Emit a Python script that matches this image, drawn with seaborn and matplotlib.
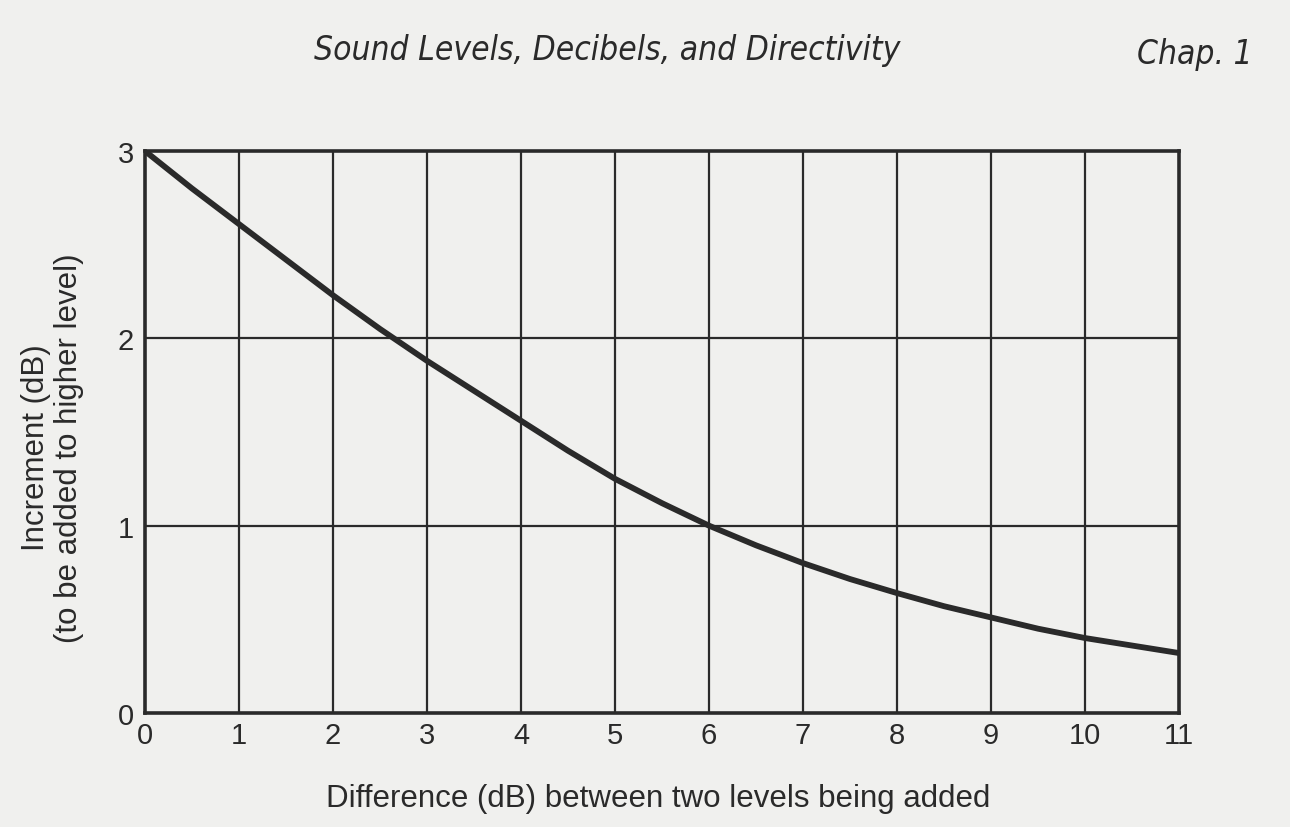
import matplotlib
matplotlib.use("Agg")
import matplotlib.pyplot as plt
import seaborn as sns
import pandas as pd

# Level difference (dB) between two sources and the increment added to the higher level
difference_db = [0, 0.5, 1, 1.5, 2, 2.5, 3, 3.5, 4, 4.5, 5, 5.5,
                 6, 6.5, 7, 7.5, 8, 8.5, 9, 9.5, 10, 10.5, 11]
increment_db = [3.00, 2.80, 2.61, 2.42, 2.23, 2.05, 1.88, 1.72, 1.56, 1.40, 1.25, 1.12,
                1.00, 0.895, 0.80, 0.715, 0.64, 0.57, 0.51, 0.45, 0.40, 0.36, 0.32]

x_ticks = list(range(0, 12))
y_ticks = [0, 1, 2, 3]

title_text = "Sound Levels, Decibels, and Directivity"
chapter_text = "Chap. 1"
x_label = "Difference (dB) between two levels being added"
y_label = "Increment (dB)\n(to be added to higher level)"

paper = "#f0f0ee"
ink = "#2a2a2a"

sns.set_style("white")
plt.rcParams["font.family"] = ["Liberation Sans", "DejaVu Sans"]

df = pd.DataFrame({"difference": difference_db, "increment": increment_db})

fig = plt.figure(figsize=(12.9, 8.28), dpi=100, facecolor=paper)
ax = fig.add_axes([0.1124, 0.1377, 0.8016, 0.6787])
ax.set_facecolor(paper)

# grid first, curve on top
for xv in x_ticks[1:-1]:
    ax.axvline(xv, color=ink, lw=1.6, zorder=1)
for yv in y_ticks[1:-1]:
    ax.axhline(yv, color=ink, lw=1.6, zorder=1)

sns.lineplot(data=df, x="difference", y="increment", ax=ax, color=ink,
             lw=4.2, zorder=3, solid_joinstyle="round", solid_capstyle="round")

ax.set_xlim(x_ticks[0], x_ticks[-1])
ax.set_ylim(y_ticks[0], y_ticks[-1])
ax.set_xticks(x_ticks)
ax.set_yticks(y_ticks)
ax.tick_params(axis="both", length=0, labelsize=21, colors=ink)
ax.tick_params(axis="x", pad=6)
ax.tick_params(axis="y", pad=8)
for sp in ax.spines.values():
    sp.set_visible(True)
    sp.set_color(ink)
    sp.set_linewidth(2.6)

ax.set_xlabel(x_label, fontsize=22.5, color=ink)
ax.xaxis.label.set_va("center")
ax.xaxis.set_label_coords(0.496, -0.151)
ax.set_ylabel(y_label, fontsize=22.5, color=ink, linespacing=1.12)
ax.yaxis.label.set_va("center")
ax.yaxis.set_label_coords(-0.0896, 0.4735)

fig.text(0.4705, 0.9396, title_text, fontsize=24, style="italic",
         stretch="condensed", family="DejaVu Sans", ha="center", va="center", color=ink)
fig.text(0.926, 0.9336, chapter_text, fontsize=24, style="italic",
         stretch="condensed", family="DejaVu Sans", ha="center", va="center", color=ink)

fig.savefig("out.png", dpi=100, facecolor=paper)
